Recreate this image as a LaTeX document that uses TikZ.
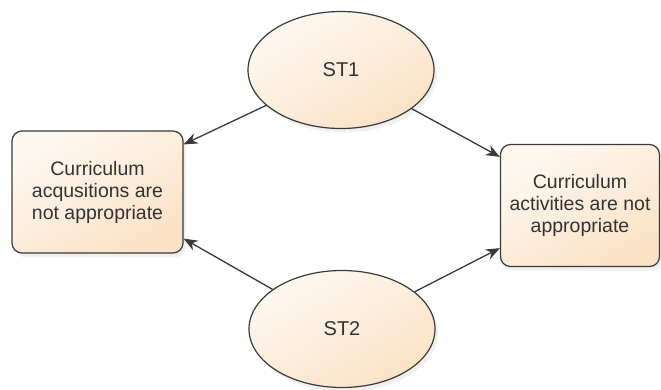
\documentclass[tikz,border=0pt]{standalone}
\usepackage{fontspec}
\setmainfont{Liberation Sans}
\usetikzlibrary{shapes.geometric,arrows.meta,shadows,calc}
\definecolor{edgegray}{HTML}{3A3A3A}
\definecolor{textgray}{HTML}{333333}
\definecolor{creamlight}{HTML}{FEF8F1}
\definecolor{peach}{HTML}{FBE2C6}
\begin{document}
\begin{tikzpicture}[x=1pt,y=-1pt,
  fillshade/.style={top color=creamlight, bottom color=peach, shading angle=30},
  softshadow/.style={drop shadow={opacity=0.12, shadow xshift=3pt, shadow yshift=-4pt}},
  ovalnode/.style={ellipse, draw=edgegray, line width=1.2pt, fillshade, softshadow,
    minimum width=186pt, minimum height=117pt, inner sep=0pt,
    font=\fontsize{20}{23}\selectfont, text=textgray},
  boxnode/.style={rectangle, rounded corners=10pt, draw=edgegray, line width=1.2pt,
    fillshade, softshadow, minimum height=122pt, inner sep=0pt,
    align=center, font=\fontsize{19.5}{22}\selectfont, text=textgray},
  link/.style={draw=edgegray, line width=1.3pt, -{Stealth[length=14pt,width=11pt]}}]
\useasboundingbox (0,0) rectangle (661,389);
\node[ovalnode] (st1) at (341,70) {ST1};
\node[ovalnode] (st2) at (342,329) {ST2};
\node[boxnode, minimum width=171pt] (acq) at (97.5,192) {Curriculum\\acqusitions are\\not appropriate};
\node[boxnode, minimum width=159pt] (act) at (580,205.5) {Curriculum\\activities are not\\appropriate};
\draw[link] (st1) -- ($(acq.north east)+(0,14)$);
\draw[link] (st1) -- ($(act.north west)+(0,13)$);
\draw[link] (st2) -- ($(acq.south east)+(0,-15)$);
\draw[link] (st2) -- ($(act.south west)+(0,-19)$);
\end{tikzpicture}
\end{document}
